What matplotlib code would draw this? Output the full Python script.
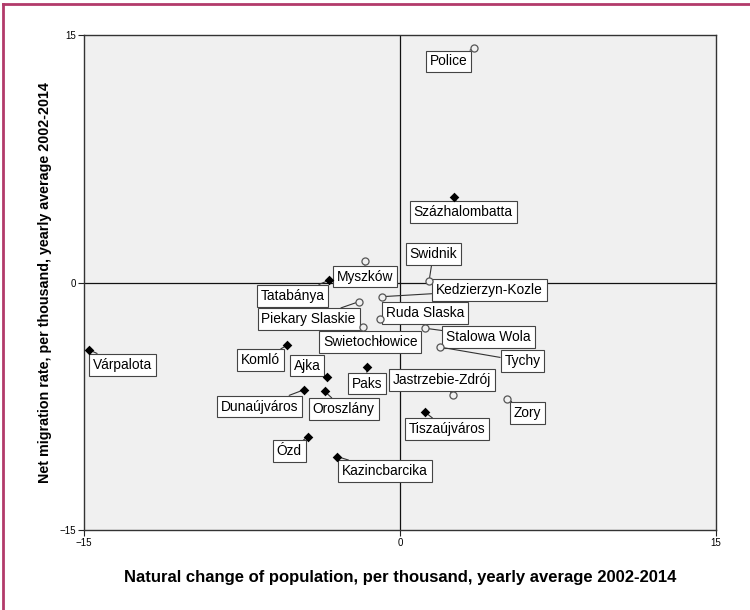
import matplotlib
matplotlib.use("Agg")
import matplotlib.pyplot as plt
from matplotlib.lines import Line2D

plt.rcParams['font.family'] = ['Liberation Sans', 'DejaVu Sans']

# towns: natural change (x), net migration (y), label centre (lx, ly), country group
towns = ['Police', 'Swidnik', 'Myszków', 'Kedzierzyn-Kozle', 'Piekary Slaskie',
         'Ruda Slaska', 'Swietochłowice', 'Stalowa Wola', 'Tychy',
         'Jastrzebie-Zdrój', 'Zory',
         'Százhalombatta', 'Tatabánya', 'Komló', 'Várpalota', 'Ajka', 'Paks',
         'Dunaújváros', 'Oroszlány', 'Tiszaújváros', 'Ózd', 'Kazincbarcika']
natural = [3.5, 1.38, -1.66, -0.87, -1.95, -0.95, -1.76, 1.19, 1.88, 2.5, 5.08,
           2.56, -3.37, -5.35, -14.76, -3.47, -1.58, -4.56, -3.57, 1.18, -4.39, -2.98]
migration = [14.2, 0.1, 1.3, -0.86, -1.16, -2.2, -2.7, -2.77, -3.91, -6.82, -7.03,
             5.16, 0.14, -3.8, -4.08, -5.7, -5.14, -6.5, -6.6, -7.85, -9.35, -10.55]
label_x = [2.31, 1.58, -1.67, 4.24, -4.34, 1.19, -1.41, 4.2, 5.81, 2.01, 6.06,
           3.0, -5.11, -6.61, -13.19, -4.41, -1.57, -6.67, -2.67, 2.22, -5.26, -0.7]
label_y = [13.4, 1.73, 0.36, -0.47, -2.22, -1.85, -3.62, -3.29, -4.77, -5.91, -7.91,
           4.27, -0.8, -4.7, -4.98, -5.03, -6.12, -7.52, -7.67, -8.89, -10.23, -11.44]
group = ['PL'] * 11 + ['HU'] * 11

fig = plt.figure(figsize=(7.5, 6.1), dpi=100)
ax = fig.add_axes([0.112, 0.1311, 0.8427, 0.8115])
ax.set_facecolor('#f0f0f0')
ax.set_xlim(-15, 15)
ax.set_ylim(-15, 15)
ax.set_xticks([-15, 0, 15])
ax.set_yticks([-15, 0, 15])
ax.tick_params(labelsize=7, length=4, width=0.8, color='#222222', pad=1.5)
for sp in ax.spines.values():
    sp.set_color('#333333')
    sp.set_linewidth(1.0)

ax.axvline(0, color='#111111', lw=0.9, zorder=1)
ax.axhline(0, color='#111111', lw=0.9, zorder=1)

for name, x, y, lx, ly, g in zip(towns, natural, migration, label_x, label_y, group):
    ax.annotate(name, xy=(x, y), xytext=(lx, ly), textcoords='data',
                ha='center', va='center', fontsize=9.9, color='black',
                bbox=dict(boxstyle='square,pad=0.28', fc='white', ec='#444444', lw=0.8),
                arrowprops=dict(arrowstyle='-', color='#333333', lw=0.8,
                                shrinkA=0, shrinkB=0),
                zorder=3)

pl = [i for i, g in enumerate(group) if g == 'PL']
hu = [i for i, g in enumerate(group) if g == 'HU']
ax.scatter([natural[i] for i in pl], [migration[i] for i in pl], s=26,
           facecolors='#f0f0f0', edgecolors='#555555', linewidths=0.9, zorder=4)
ax.scatter([natural[i] for i in hu], [migration[i] for i in hu], s=24,
           marker='D', color='black', zorder=4, linewidths=0)

ax.set_xlabel('Natural change of population, per thousand, yearly average 2002-2014',
              fontsize=12, fontweight='bold', labelpad=16)
ax.set_ylabel('Net migration rate, per thousand, yearly average 2002-2014',
              fontsize=10.3, fontweight='bold', labelpad=6)

# frame edges along the top and left of the figure
fig.add_artist(Line2D([0.004, 1.0], [0.9935, 0.9935], color='#b23a6a', lw=2,
                      transform=fig.transFigure))
fig.add_artist(Line2D([0.004, 0.004], [0.0, 0.9935], color='#b23a6a', lw=2,
                      transform=fig.transFigure))

fig.savefig('out.png', dpi=100)
